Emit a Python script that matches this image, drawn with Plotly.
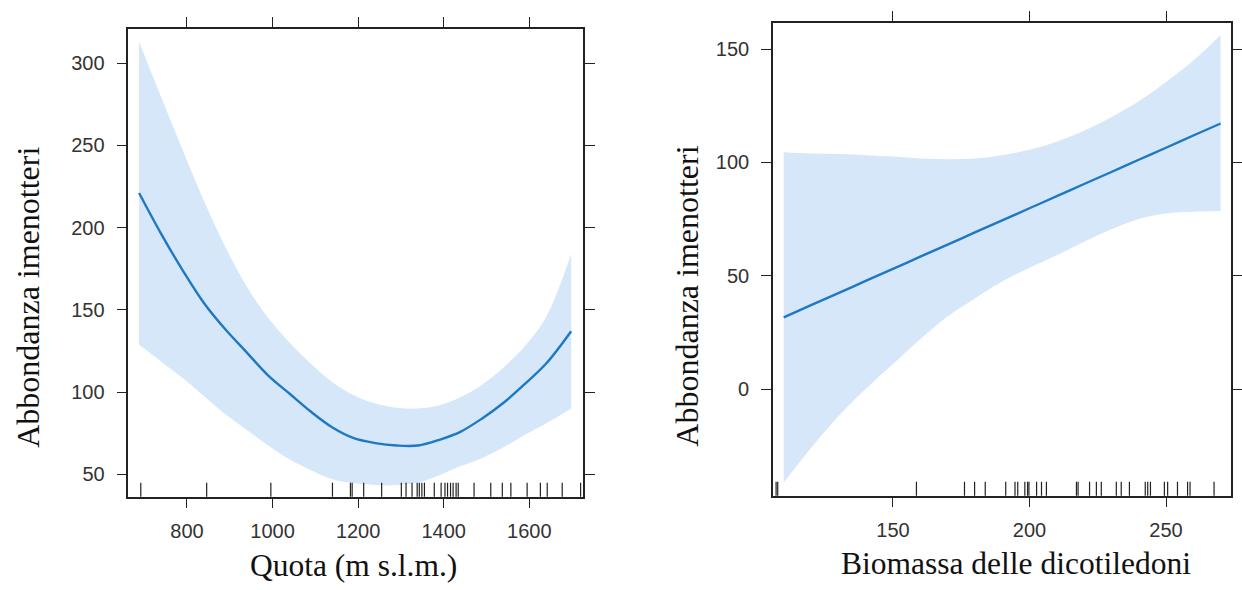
import plotly.graph_objects as go

# ---- Left panel: Quota (m s.l.m.) ----
quota_x = [688, 740, 790, 840, 890, 940, 990, 1040, 1090, 1140, 1190, 1240,
           1290, 1340, 1390, 1440, 1490, 1540, 1590, 1640, 1698]
quota_fit = [221, 196, 174, 154, 138, 124, 110, 99, 88, 78.5, 72, 69,
             67.5, 67.5, 71, 76, 84, 93.5, 105, 117.5, 137]
quota_upper = [313, 279, 247, 216, 188, 164, 145, 130, 117, 106, 98, 93,
               90.5, 90, 92, 97, 104.5, 115, 128, 146, 184]
quota_lower = [128.7, 118.5, 108.5, 97.5, 86.5, 77, 67.5, 59, 52.5, 47, 44.5, 43.5,
               43.5, 45, 49.5, 55, 60, 66.5, 74, 81, 90]
quota_rug = [692, 846, 996, 1140, 1182, 1186, 1213, 1255, 1301, 1312, 1326, 1338,
             1343, 1349, 1355, 1378, 1394, 1403, 1409, 1416, 1422, 1429, 1434,
             1471, 1510, 1537, 1557, 1595, 1626, 1642, 1677, 1720]
quota_xticks = [800, 1000, 1200, 1400, 1600]
quota_yticks = [50, 100, 150, 200, 250, 300]

# ---- Right panel: Biomassa delle dicotiledoni ----
bio_x = [110, 120, 130, 140, 150, 160, 170, 180, 190, 200, 210, 220, 230, 240, 250, 260, 270]
bio_fit = [31.6, 37, 42.3, 47.7, 53, 58.4, 63.7, 69.1, 74.4, 79.8, 85.1, 90.5,
           95.8, 101.2, 106.5, 111.9, 117.2]
bio_upper = [104.5, 104, 103.7, 103.2, 102.6, 101.8, 101.4, 101.7, 103.2, 105.6,
             109.2, 114, 120, 127, 135.5, 145, 156.3]
bio_lower = [-41.3, -26, -12, 0, 11, 22, 32, 40, 47.5, 53.5, 59, 65, 70.5,
             75, 77.5, 78.3, 78.6]
bio_rug = [107.2, 107.8, 158.6, 176.2, 179.9, 183.8, 191.3, 194.7, 195.7, 198.3,
           199.3, 199.8, 202.6, 204.4, 206.2, 217.2, 217.8, 222.0, 224.5, 226.3,
           231.8, 233.6, 236.6, 242.4, 243.3, 244.3, 249.4, 250.6, 254.2, 257.9,
           258.8, 267.6]
bio_xticks = [150, 200, 250]
bio_yticks = [0, 50, 100, 150]

y_title = "Abbondanza imenotteri"
x_title_left = "Quota (m s.l.m.)"
x_title_right = "Biomassa delle dicotiledoni"

BAND = "#d5e7f8"
LINE = "#1e78c4"
FRAME = "#222222"
W, H = 1242, 590

fig = go.Figure()

def add_panel(xs, fit, up, lo, xa, ya):
    fig.add_trace(go.Scatter(x=xs, y=up, mode="lines", line=dict(width=0, shape="spline", smoothing=1),
                             hoverinfo="skip", showlegend=False, xaxis=xa, yaxis=ya))
    fig.add_trace(go.Scatter(x=xs, y=lo, mode="lines", line=dict(width=0, shape="spline", smoothing=1),
                             fill="tonexty", fillcolor=BAND,
                             hoverinfo="skip", showlegend=False, xaxis=xa, yaxis=ya))
    fig.add_trace(go.Scatter(x=xs, y=fit, mode="lines",
                             line=dict(color=LINE, width=2.4, shape="spline", smoothing=1),
                             showlegend=False, xaxis=xa, yaxis=ya))

add_panel(quota_x, quota_fit, quota_upper, quota_lower, "x", "y")
add_panel(bio_x, bio_fit, bio_upper, bio_lower, "x2", "y2")

shapes = []
for v in quota_rug:
    shapes.append(dict(type="line", xref="x", yref="y domain", x0=v, x1=v,
                       ysizemode="pixel", yanchor=0, y0=0, y1=14,
                       line=dict(color=FRAME, width=1.2)))
for v in bio_rug:
    shapes.append(dict(type="line", xref="x2", yref="y2 domain", x0=v, x1=v,
                       ysizemode="pixel", yanchor=0, y0=0, y1=14,
                       line=dict(color=FRAME, width=1.2)))

tickfont = dict(family="Liberation Sans, Arial, sans-serif", size=20, color="#333333")
axis_common = dict(showline=True, linecolor=FRAME, linewidth=1.5, mirror="ticks",
                   ticks="outside", ticklen=10, tickwidth=1.3, tickcolor=FRAME,
                   showgrid=False, zeroline=False, tickfont=tickfont)

fig.update_layout(
    width=W, height=H,
    margin=dict(l=0, r=0, t=0, b=0),
    paper_bgcolor="white", plot_bgcolor="white",
    showlegend=False,
    shapes=shapes,
    xaxis=dict(domain=[129 / W, 586 / W], range=[663, 1726], tickvals=quota_xticks,
               anchor="y", ticklabelstandoff=6, **axis_common),
    yaxis=dict(domain=[1 - 496.7 / H, 1 - 29 / H], range=[36.4, 320.7], tickvals=quota_yticks,
               anchor="x", ticklabelstandoff=8, **axis_common),
    xaxis2=dict(domain=[776.7 / W, 1236.7 / W], range=[106.05, 273.7], tickvals=bio_xticks,
                anchor="y2", ticklabelstandoff=6, **axis_common),
    yaxis2=dict(domain=[1 - 495.7 / H, 1 - 22.7 / H], range=[-47.1, 161.7], tickvals=bio_yticks,
                anchor="x2", ticklabelstandoff=8, **axis_common),
)

ytitlefont = dict(family="Liberation Serif, Times New Roman, serif", size=32, color="#111111")
xtitlefont = dict(family="Liberation Serif, Times New Roman, serif", size=31.5, color="#111111")
fig.add_annotation(text=y_title, x=28 / W, y=1 - 297 / H, xref="paper", yref="paper",
                   textangle=-90, showarrow=False, font=ytitlefont, xanchor="center", yanchor="middle")
fig.add_annotation(text=y_title, x=690 / W, y=1 - 296 / H, xref="paper", yref="paper",
                   textangle=-90, showarrow=False, font=ytitlefont, xanchor="center", yanchor="middle")
fig.add_annotation(text=x_title_left, x=355 / W, y=1 - 565 / H, xref="paper", yref="paper",
                   showarrow=False, font=xtitlefont, xanchor="center", yanchor="middle")
fig.add_annotation(text=x_title_right, x=1021 / W, y=1 - 563 / H, xref="paper", yref="paper",
                   showarrow=False, font=xtitlefont, xanchor="center", yanchor="middle")

fig.write_html("out.html")
